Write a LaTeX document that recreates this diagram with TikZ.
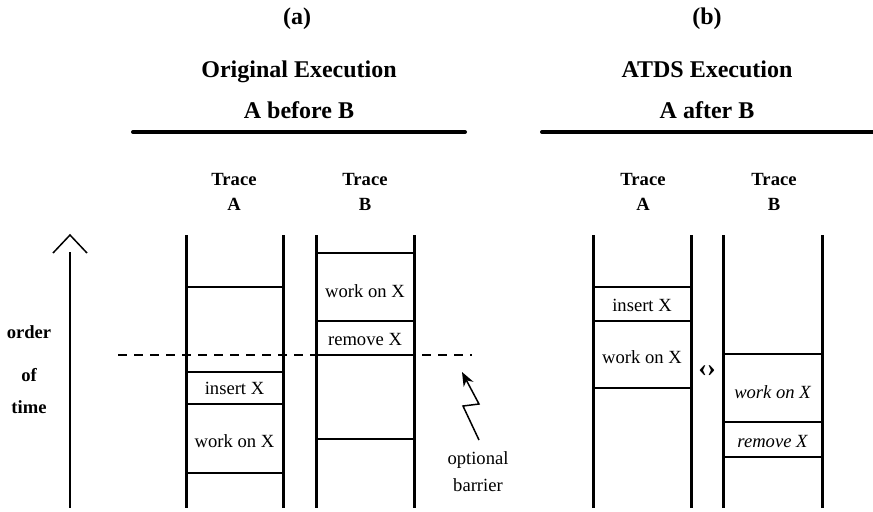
\documentclass[tikz,border=0pt]{standalone}
\usepackage{fontspec}
\setmainfont{Liberation Serif}
\usetikzlibrary{arrows.meta}
\begin{document}
\begin{tikzpicture}[x=0.5pt,y=-0.5pt,
  head/.style={font=\bfseries\fontsize{12}{14}\selectfont, inner sep=0pt, anchor=base},
  tracelbl/.style={font=\bfseries\fontsize{9.3}{12}\selectfont, inner sep=0pt, anchor=base},
  cell/.style={font=\fontsize{9.3}{11}\selectfont, inner sep=0pt},
  icell/.style={font=\itshape\fontsize{9.3}{11}\selectfont, inner sep=0pt},
  lane/.style={line width=1.5pt},
  sep/.style={line width=0.7pt},
  rule/.style={line width=2pt, line cap=round},
  thin/.style={line width=0.75pt}]
\useasboundingbox (0,0) rectangle (873,511);

% ---------- headings ----------
\node[head] (pa) at (297,24) {(a)};
\node[head] (ta) at (299,77) {Original Execution};
\node[head] (sa) at (299,118) {A before B};
\draw[rule] (133,132) -- (465,132);

\node[head] (pb) at (707,24) {(b)};
\node[head] (tb) at (707,77) {ATDS Execution};
\node[head] (sb) at (707,118) {A after B};
\draw[rule] (542,132) -- (880,132);

% ---------- trace headers ----------
\node[tracelbl] (aA1) at (234,185) {Trace};
\node[tracelbl] (aA2) at (234,210) {A};
\node[tracelbl] (aB1) at (365,185) {Trace};
\node[tracelbl] (aB2) at (365,210) {B};
\node[tracelbl] (bA1) at (643,185) {Trace};
\node[tracelbl] (bA2) at (643,210) {A};
\node[tracelbl] (bB1) at (774,185) {Trace};
\node[tracelbl] (bB2) at (774,210) {B};

% ---------- time axis ----------
\draw[thin] (53,253) -- (70,235) -- (87,253);
\draw[thin] (70,252) -- (70,508);
\node[tracelbl] (ord) at (29,338) {order};
\node[tracelbl] (of) at (29,381) {of};
\node[tracelbl] (tim) at (29,413) {time};

% ---------- (a) trace A ----------
\draw[lane] (186,235) -- (186,508);
\draw[lane] (283,235) -- (283,508);
\foreach \y in {287,372,404,473} \draw[sep] (186,\y) -- (283,\y);
\node[cell] (a1) at (234.5,388) {insert X};
\node[cell] (a2) at (234.5,441) {work on X};

% ---------- (a) trace B ----------
\draw[lane] (316,235) -- (316,508);
\draw[lane] (414,235) -- (414,508);
\foreach \y in {253,321,355,439} \draw[sep] (316,\y) -- (414,\y);
\node[cell] (b1) at (365,291) {work on X};
\node[cell] (b2) at (365,339) {remove X};

% ---------- barrier ----------
\draw[sep, dash pattern=on 4.5pt off 3.5pt] (118,355) -- (472,355);
\draw[thin, -{Stealth[length=7pt,width=5.5pt]}] (479,440) -- (463,406) -- (479,404) -- (462,372);
\node[cell] (bar1) at (478,460) {optional};
\node[cell] (bar2) at (478,485) {barrier};

% ---------- (b) trace A ----------
\draw[lane] (593,235) -- (593,508);
\draw[lane] (691,235) -- (691,508);
\foreach \y in {287,321,388} \draw[sep] (593,\y) -- (691,\y);
\node[cell] (c1) at (642,305) {insert X};
\node[cell] (c2) at (642,357) {work on X};

% ---------- (b) trace B ----------
\draw[lane] (723,235) -- (723,508);
\draw[lane] (822,235) -- (822,508);
\foreach \y in {354,422,457} \draw[sep] (723,\y) -- (822,\y);
\node[icell] (d1) at (772.5,392) {work on X};
\node[icell] (d2) at (772.5,441) {remove X};

\node[font=\bfseries\fontsize{13}{14}\selectfont, inner sep=0pt] (swap) at (707,371) {‹›};
\end{tikzpicture}
\end{document}
